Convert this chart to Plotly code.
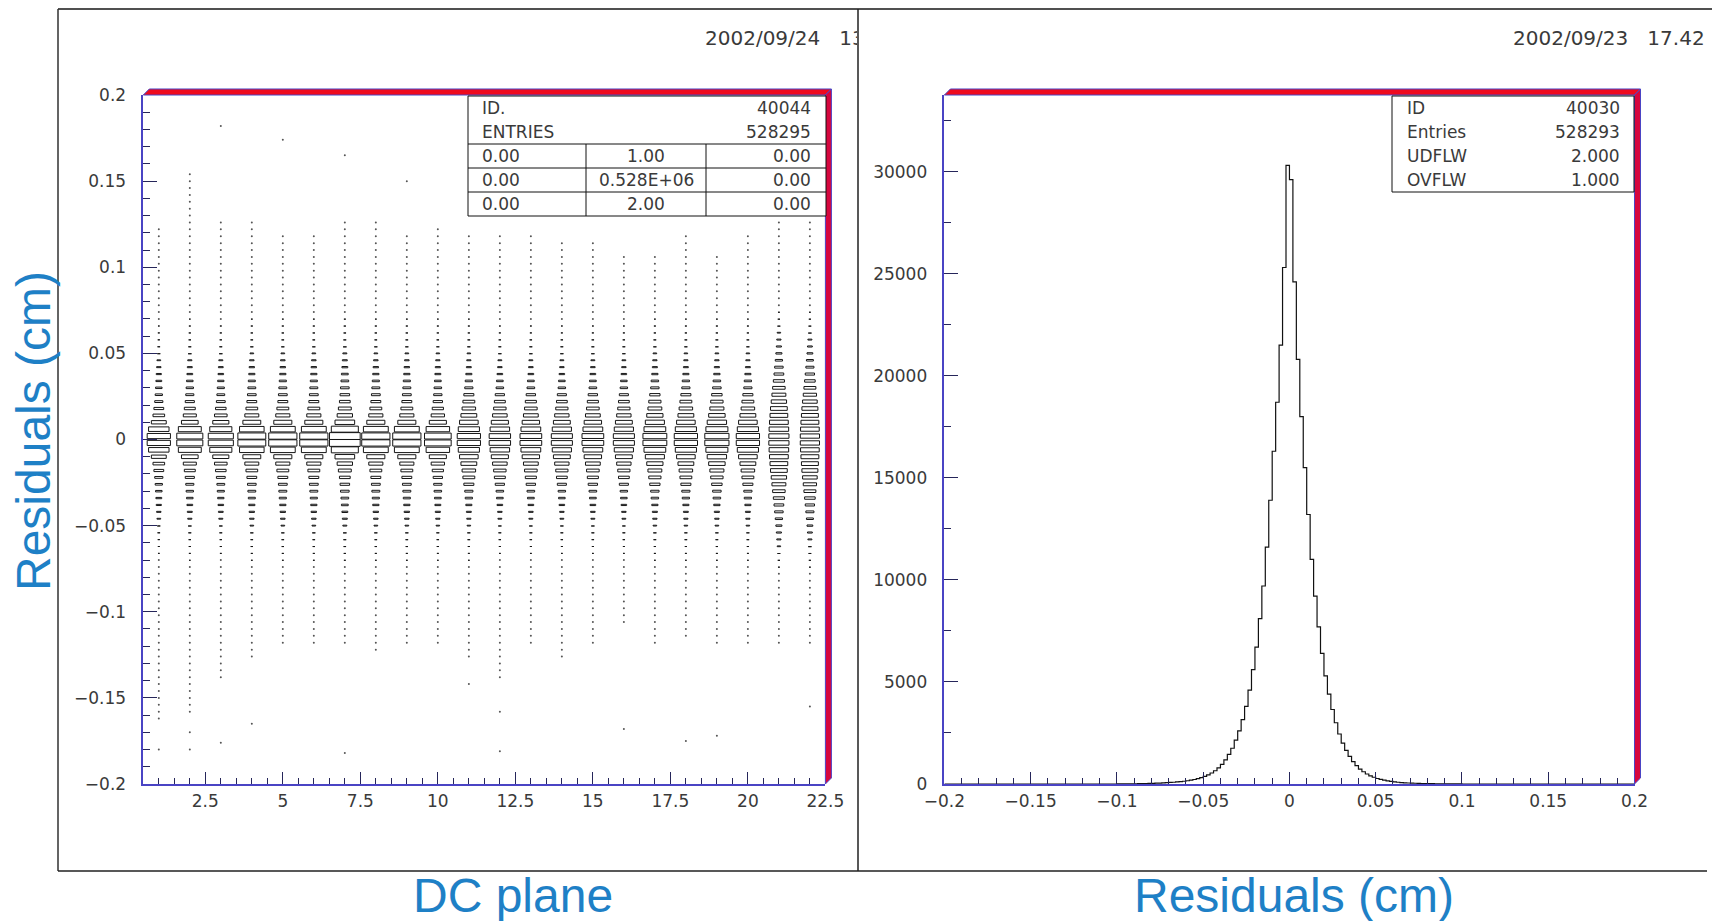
import plotly.graph_objects as go

W, H = 1712, 921

# ---------------- Left panel: residuals vs DC plane (2D histogram, BOX style) ----------------
planes = list(range(1, 23))
y_bin_width = 0.004          # residual bin width (cm)
x_bin_width = 1.0            # one bin per DC plane
# relative size of the central box of each plane (1 = full cell)
peak_size = [0.75, 0.84, 0.81, 0.90, 0.91, 0.91, 0.99, 0.91, 0.91, 0.86, 0.75,
             0.69, 0.70, 0.68, 0.70, 0.68, 0.77, 0.75, 0.78, 0.75, 0.65, 0.62]
plane_profile = ["narrow"] * 10 + ["wide"] * 10 + ["widest"] * 2
# box size relative to the central box, by bin offset from zero (both sides)
profile_narrow = [1.00, 0.88, 0.64, 0.50, 0.42, 0.35, 0.31, 0.28, 0.25, 0.22, 0.19,
                  0.16, 0.13, 0.11, 0.09, 0.08, 0.07, 0.06, 0.05, 0.05, 0.04, 0.04]
profile_wide = [1.00, 0.91, 0.80, 0.68, 0.58, 0.51, 0.43, 0.35, 0.31, 0.26, 0.21, 0.18,
                0.15, 0.13, 0.11, 0.09, 0.08, 0.07, 0.06, 0.05, 0.045, 0.04, 0.035, 0.03]
profile_widest = [1.00, 0.97, 0.93, 0.88, 0.83, 0.76, 0.69, 0.62, 0.55, 0.48, 0.42, 0.36,
                  0.30, 0.25, 0.21, 0.17, 0.14, 0.11, 0.09, 0.07, 0.06, 0.05, 0.04, 0.035, 0.03]
# extent of the sparse (single-entry) tails of each plane
tail_top = [0.125, 0.155, 0.13, 0.13, 0.12, 0.12, 0.13, 0.13, 0.12, 0.125, 0.12,
            0.12, 0.12, 0.115, 0.115, 0.11, 0.11, 0.12, 0.11, 0.12, 0.13, 0.13]
tail_bottom = [-0.165, -0.16, -0.14, -0.13, -0.12, -0.12, -0.12, -0.125, -0.12, -0.12, -0.13,
               -0.14, -0.12, -0.13, -0.12, -0.11, -0.12, -0.115, -0.12, -0.12, -0.12, -0.12]
# isolated outliers
outlier_plane = [3, 5, 7, 9, 2, 4, 3, 7, 12, 16, 18, 19, 22, 12, 11, 1, 2]
outlier_value = [0.182, 0.174, 0.165, 0.15, -0.17, -0.165, -0.176, -0.182, -0.181,
                 -0.168, -0.175, -0.172, -0.155, -0.158, -0.142, -0.18, -0.18]

# ---------------- Right panel: residual histogram ----------------
hist_lo, hist_hi, hist_nbins = -0.2, 0.2, 200
core_first_bin = 50          # bin index of -0.1
counts_core = [4, 5, 6, 8, 10, 12, 15, 18, 22, 27, 32, 38, 45, 55, 65, 75, 85, 100, 115, 135,
               160, 185, 220, 260, 310, 370, 450, 540, 650, 790, 960, 1180, 1450, 1750, 2150,
               2600, 3150, 3800, 4600, 5600, 6700, 8100, 9700, 11600, 13900, 16300, 18700,
               21500, 25300, 30300,
               29600, 24600, 20800, 18000, 15500, 13200, 11000, 9200, 7700, 6400, 5300, 4400,
               3650, 3000, 2450, 2000, 1650, 1350, 1100, 900, 730, 600, 490, 400, 330, 270,
               225, 185, 150, 125, 100, 85, 70, 60, 50, 42, 36, 30, 25, 21, 18, 15, 12, 10,
               8, 7, 5, 4, 3, 2]

# ---------------- geometry (pixels of the 1712x921 page) ----------------
def px(x):
    return x / W


def py(y):
    return 1 - y / H


L1, R1, T, B = 143.3, 825.4, 95.0, 784.0
L2, R2 = 944.4, 1634.5

BLUE_AXIS = "#4a44c4"
TICK = "#26265a"
LABEL_FONT = dict(family="DejaVu Sans", size=17, color="#3a3a3a")
DATE_FONT = dict(family="DejaVu Sans", size=20, color="#3a3a3a")
TITLE_BLUE = "#1e80c6"

# ---------------- build boxes ----------------
profiles = {"narrow": profile_narrow, "wide": profile_wide, "widest": profile_widest}
bx, by = [], []
dx, dy = [], []
for i, p in enumerate(planes):
    prof = profiles[plane_profile[i]]
    for k, rel in enumerate(prof):
        s = peak_size[i] * rel
        for sign in (1, -1):
            yc = sign * (k + 0.5) * y_bin_width
            if s < 0.05:
                dx.append(p)
                dy.append(yc)
                continue
            hw = 0.5 * s * x_bin_width
            hh = 0.5 * s * y_bin_width
            bx += [p - hw, p + hw, p + hw, p - hw, p - hw, None]
            by += [yc - hh, yc - hh, yc + hh, yc + hh, yc - hh, None]
    k = len(prof)
    while (k + 0.5) * y_bin_width < tail_top[i]:
        dx.append(p)
        dy.append((k + 0.5) * y_bin_width)
        k += 1
    k = len(prof)
    while -(k + 0.5) * y_bin_width > tail_bottom[i]:
        dx.append(p)
        dy.append(-(k + 0.5) * y_bin_width)
        k += 1
dx += outlier_plane
dy += outlier_value

fig = go.Figure()
fig.add_trace(go.Scatter(x=bx, y=by, mode="lines", fill="toself", fillcolor="white",
                         line=dict(color="#151515", width=1), hoverinfo="skip",
                         xaxis="x", yaxis="y", showlegend=False))
fig.add_trace(go.Scatter(x=dx, y=dy, mode="markers",
                         marker=dict(size=2, color="#555555", line=dict(width=0)),
                         hoverinfo="skip", xaxis="x", yaxis="y", showlegend=False))

# histogram
bw = (hist_hi - hist_lo) / hist_nbins
counts = [0] * hist_nbins
for j, c in enumerate(counts_core):
    counts[core_first_bin + j] = c
edges = [hist_lo + j * bw for j in range(hist_nbins + 1)]
fig.add_trace(go.Scatter(x=edges, y=counts + [counts[-1]], mode="lines", line_shape="hv",
                         line=dict(color="#111111", width=1.2), hoverinfo="skip",
                         xaxis="x2", yaxis="y2", showlegend=False))

# ---------------- axes ----------------
common = dict(showline=True, linecolor=BLUE_AXIS, linewidth=1.5, ticks="inside",
              tickcolor=TICK, tickwidth=1, showgrid=False, zeroline=False,
              tickfont=LABEL_FONT, fixedrange=True, automargin=False)
fig.update_layout(
    width=W, height=H, margin=dict(l=0, r=0, t=0, b=0, pad=0),
    paper_bgcolor="white", plot_bgcolor="white", showlegend=False,
    xaxis=dict(domain=[px(L1), px(R1)], range=[0.5, 22.5], dtick=2.5, tick0=0, ticklen=12,
               minor=dict(dtick=0.5, tick0=0, ticklen=6, ticks="inside", tickcolor=TICK),
               ticklabelstandoff=1, anchor="y", **common),
    yaxis=dict(domain=[py(B), py(T)], range=[-0.2, 0.2], dtick=0.05, tick0=0, ticklen=14,
               minor=dict(dtick=0.01, tick0=0, ticklen=7, ticks="inside", tickcolor=TICK),
               ticklabelstandoff=12, anchor="x", **common),
    xaxis2=dict(domain=[px(L2), px(R2)], range=[-0.2, 0.2], dtick=0.05, tick0=0, ticklen=12,
                minor=dict(dtick=0.01, tick0=0, ticklen=6, ticks="inside", tickcolor=TICK),
                ticklabelstandoff=1, anchor="y2", **common),
    yaxis2=dict(domain=[py(B), py(T)], range=[0, 33750], dtick=5000, tick0=0, ticklen=14,
                tickformat="d",
                minor=dict(dtick=2500, tick0=0, ticklen=7, ticks="inside", tickcolor=TICK),
                ticklabelstandoff=12, anchor="x2", **common),
)

# ---------------- decorations ----------------
shapes = []


def line(x0, y0, x1, y1, color="#333333", width=1.5):
    shapes.append(dict(type="line", xref="paper", yref="paper", x0=px(x0), y0=py(y0),
                       x1=px(x1), y1=py(y1), line=dict(color=color, width=width)))


def poly(points, fill, color=BLUE_AXIS, width=1):
    path = "M " + " L ".join(f"{px(a):.6f},{py(b):.6f}" for a, b in points) + " Z"
    shapes.append(dict(type="path", xref="paper", yref="paper", path=path,
                       fillcolor=fill, line=dict(color=color, width=width), layer="above"))


def rect(x0, y0, x1, y1):
    shapes.append(dict(type="rect", xref="paper", yref="paper", x0=px(x0), y0=py(y0),
                       x1=px(x1), y1=py(y1), fillcolor="white",
                       line=dict(color="#111111", width=1), layer="above"))


# outer frames
line(58, 9, 1712, 9, "#505050", 2)
line(58, 9, 58, 871, "#303030", 1.5)
line(858, 9, 858, 871, "#202020", 1.5)
line(58, 871, 1707, 871, "#202020", 1.5)

# red "3D" frame of each plot
d = 6
for L, R in ((L1, R1), (L2, R2)):
    poly([(L, T), (L + d, T - d), (R + d, T - d), (R, T)], "#ee0a1e")
    poly([(R, T), (R + d, T - d), (R + d, B - d), (R, B)], "#d6063e")

# stats boxes
rect(468, 96, 826, 216)
for yy in (144, 168, 192):
    line(468, yy, 826, yy, "#111111", 1)
for xx in (586, 706):
    line(xx, 144, xx, 216, "#111111", 1)
rect(1392, 96, 1634, 192)

annotations = []


def text(x, y, s, anchor="left", font=LABEL_FONT, **kw):
    annotations.append(dict(x=px(x), y=py(y), xref="paper", yref="paper", text=s,
                            showarrow=False, xanchor=anchor, yanchor="middle", font=font, **kw))


# left stats
stats_left_rows = [("ID.", "40044"), ("ENTRIES", "528295")]
stats_left_table = [("0.00", "1.00", "0.00"), ("0.00", "0.528E+06", "0.00"), ("0.00", "2.00", "0.00")]
for j, (a, b) in enumerate(stats_left_rows):
    text(480, 108 + 24 * j, a)
    text(813, 108 + 24 * j, b, "right")
for j, (a, b, c) in enumerate(stats_left_table):
    text(480, 156 + 24 * j, a)
    text(646, 156 + 24 * j, b, "center")
    text(813, 156 + 24 * j, c, "right")

# right stats
stats_right_rows = [("ID", "40030"), ("Entries", "528293"), ("UDFLW", "2.000"), ("OVFLW", "1.000")]
for j, (a, b) in enumerate(stats_right_rows):
    text(1405, 108 + 24 * j, a)
    text(1622, 108 + 24 * j, b, "right")

# dates (the left one is cut by the panel border)
text(703, 38, "2002/09/24\u00a0\u00a0\u00a013", font=DATE_FONT, width=152, align="left")
text(1511, 38, "2002/09/23\u00a0\u00a0\u00a017.42", font=DATE_FONT)

# axis titles
TITLE_FONT = dict(family="Liberation Sans", size=48, color=TITLE_BLUE)
text(513, 895, "DC plane", "center", TITLE_FONT)
text(1294, 895, "Residuals (cm)", "center", TITLE_FONT)
text(33, 431, "Residuals (cm)", "center", TITLE_FONT, textangle=-90)

fig.update_layout(shapes=shapes, annotations=annotations)

fig.write_html("out.html", config={"displayModeBar": False},
               post_script="document.body.style.margin='0';")
